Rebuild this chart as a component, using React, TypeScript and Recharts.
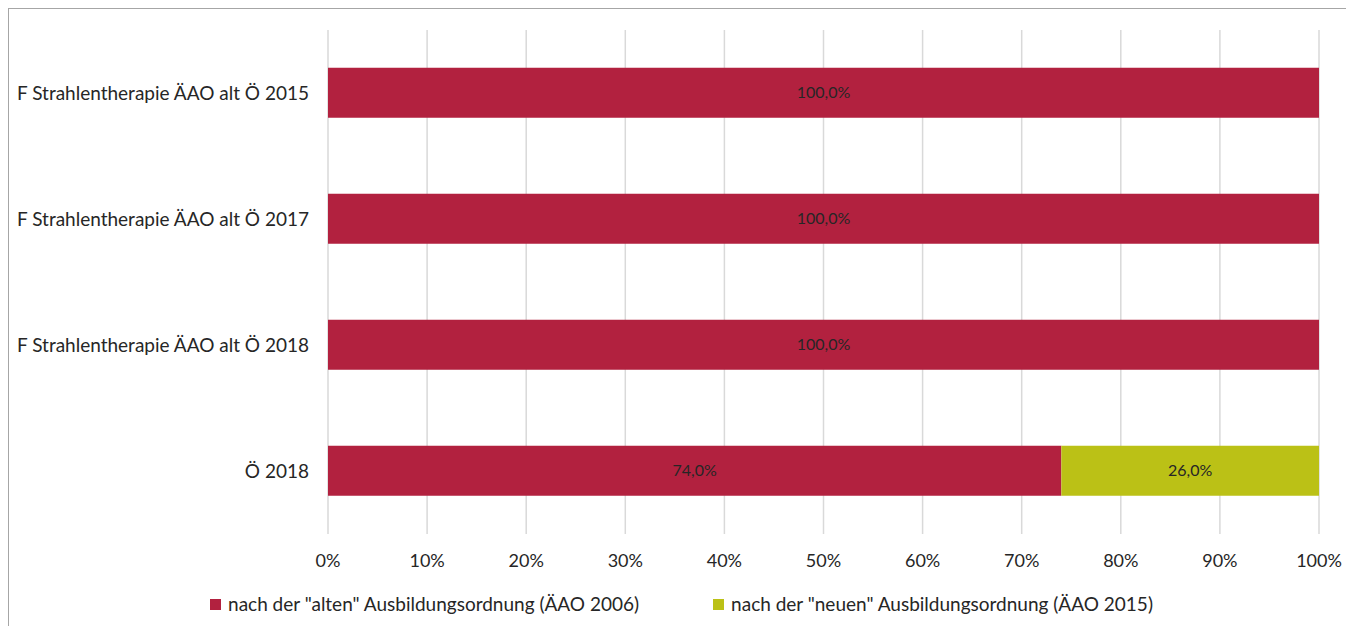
import React from "react";
import { BarChart, Bar, XAxis, YAxis, CartesianGrid, Legend, LabelList } from "recharts";

const categories = [
  "F Strahlentherapie ÄAO alt Ö 2015",
  "F Strahlentherapie ÄAO alt Ö 2017",
  "F Strahlentherapie ÄAO alt Ö 2018",
  "Ö 2018",
];
const altValues = [1.0, 1.0, 1.0, 0.74];
const neuValues = [0, 0, 0, 0.26];
const xTicks = [0, 0.1, 0.2, 0.3, 0.4, 0.5, 0.6, 0.7, 0.8, 0.9, 1.0];
const seriesNames = [
  'nach der "alten" Ausbildungsordnung (ÄAO 2006)',
  'nach der "neuen" Ausbildungsordnung (ÄAO 2015)',
];
const colors = ["#B2213F", "#BBC116"];

const data = categories.map((c, i) => ({ name: c, alt: altValues[i], neu: neuValues[i] }));

const FONT = "Lato, 'Open Sans', sans-serif";

const fmtLabel = (v: any) => (v && v > 0 ? (v * 100).toFixed(1).replace(".", ",") + "%" : "");

const LegendContent = () => (
  <div style={{ display: "flex", justifyContent: "center", fontFamily: FONT, fontSize: 19, color: "#262626", lineHeight: "24px" }}>
    {seriesNames.map((n, i) => (
      <div key={n} style={{ display: "flex", alignItems: "center", marginRight: i === 0 ? 74 : 0 }}>
        <span style={{ display: "inline-block", width: 11, height: 11, background: colors[i], marginRight: 7 }} />
        <span>{n}</span>
      </div>
    ))}
  </div>
);

export default function App() {
  return (
    <div
      style={{
        width: 1346,
        height: 618,
        borderTop: "1px solid #a6a6a6",
        borderLeft: "1px solid #a6a6a6",
        boxSizing: "border-box",
        background: "#fff",
        overflow: "hidden",
      }}
    >
      <BarChart
        width={1345}
        height={617}
        data={data}
        layout="vertical"
        margin={{ top: 21, right: 35, left: 0, bottom: 38 }}
        barCategoryGap="30%"
      >
        <CartesianGrid horizontal={false} vertical={true} stroke="#d9d9d9" strokeWidth={1.5} />
        <XAxis
          type="number"
          domain={[0, 1]}
          ticks={xTicks}
          tickFormatter={(v: number) => Math.round(v * 100) + "%"}
          axisLine={false}
          tickLine={false}
          tickMargin={14}
          height={30}
          interval={0}
          tick={{ fill: "#262626", fontSize: 18, fontFamily: FONT }}
        />
        <YAxis
          type="category"
          dataKey="name"
          width={319}
          axisLine={false}
          tickLine={false}
          tickMargin={13}
          interval={0}
          tick={{ fill: "#262626", fontSize: 19, fontFamily: FONT }}
        />
        <Legend
          verticalAlign="bottom"
          content={<LegendContent />}
          wrapperStyle={{ top: 583, bottom: "auto", left: 0, width: 1345 }}
        />
        <Bar dataKey="alt" stackId="s" fill={colors[0]} isAnimationActive={false} name={seriesNames[0]}>
          <LabelList dataKey="alt" position="center" formatter={fmtLabel} style={{ fill: "#262626", fontSize: 16, fontFamily: FONT }} />
        </Bar>
        <Bar dataKey="neu" stackId="s" fill={colors[1]} isAnimationActive={false} name={seriesNames[1]}>
          <LabelList dataKey="neu" position="center" formatter={fmtLabel} style={{ fill: "#262626", fontSize: 16, fontFamily: FONT }} />
        </Bar>
      </BarChart>
    </div>
  );
}
